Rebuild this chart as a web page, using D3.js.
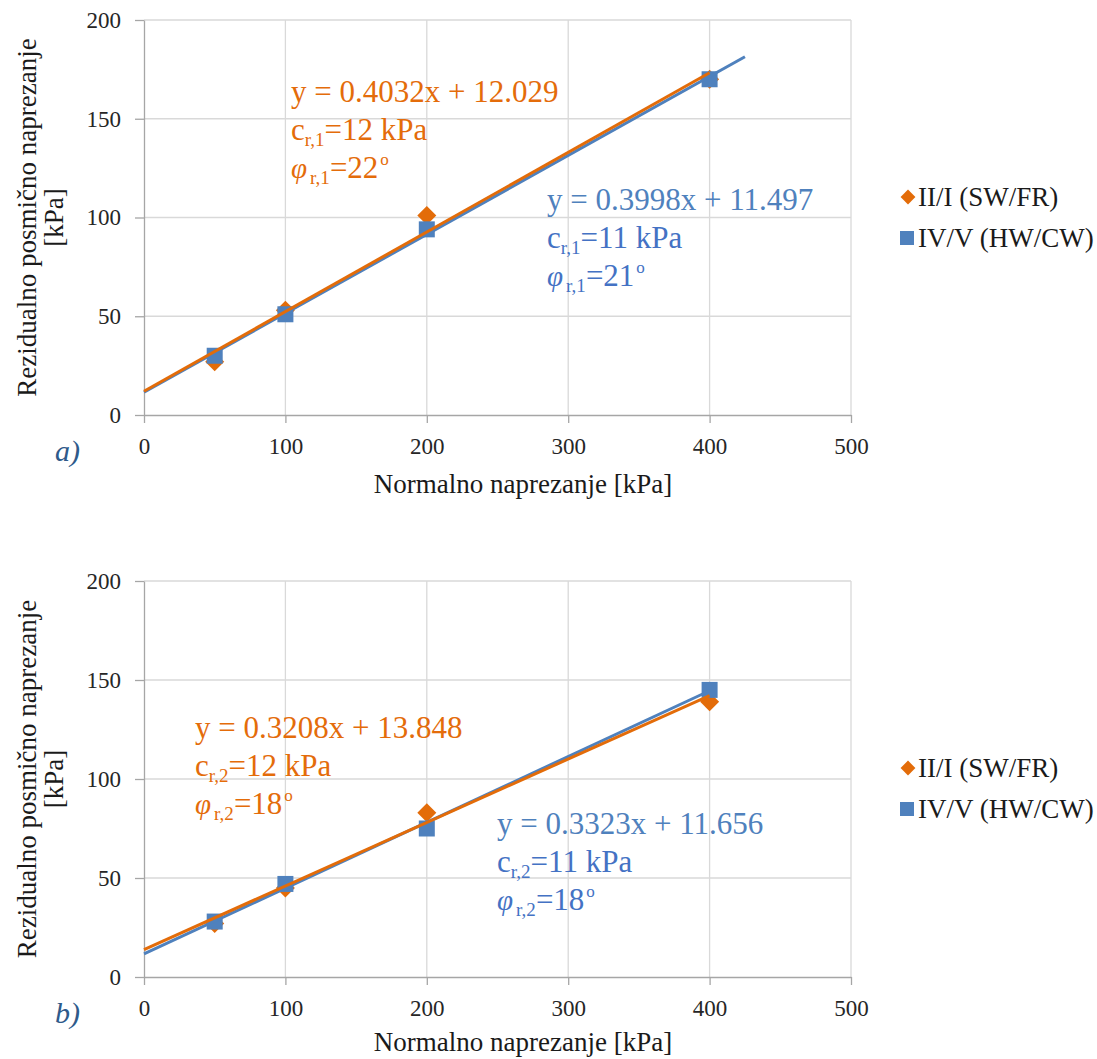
<!DOCTYPE html>
<html>
<head>
<meta charset="utf-8">
<script src="https://cdn.jsdelivr.net/npm/d3@7"></script>
<style>
  html, body { margin: 0; padding: 0; background: #ffffff; }
  svg { display: block; }
  svg text, svg tspan { font-family: "Liberation Serif", "Times New Roman", serif !important; }
</style>
</head>
<body>
<div id="chart"></div>
<script>
// ---------- data ----------
const xValues = [50, 100, 200, 400];
const xTicks = [0, 100, 200, 300, 400, 500];
const yTicks = [0, 50, 100, 150, 200];

const seriesNames = ["II/I (SW/FR)", "IV/V (HW/CW)"];

// chart a
const aOrange = [27, 53, 101, 170];
const aBlue = [30, 51, 94, 170];
const aSlopes = [0.4032, 0.3998];
const aIntercepts = [12.029, 11.497];
const aLineEnds = [400, 425];
const aEquations = ["y = 0.4032x + 12.029", "y = 0.3998x + 11.497"];
const aCohesion = ["12", "11"];
const aFriction = ["22", "21"];

// chart b
const bOrange = [27, 45, 83, 139];
const bBlue = [28, 47, 75, 145];
const bSlopes = [0.3208, 0.3323];
const bIntercepts = [13.848, 11.656];
const bLineEnds = [400, 400];
const bEquations = ["y = 0.3208x + 13.848", "y = 0.3323x + 11.656"];
const bCohesion = ["12", "11"];
const bFriction = ["18", "18"];

const xTitle = "Normalno naprezanje [kPa]";
const yTitle1 = "Rezidualno posmično naprezanje";
const yTitle2 = "[kPa]";

// ---------- styles ----------
const ORANGE = "#E36C09";
const BLUE = "#4F81BD";
const ORANGE_TXT = "#E46C0A";
const BLUE_EQ = "#4F81BD";
const BLUE_TXT = "#4472C4";
const GRID = "#d9d9d9";
const AXIS = "#a6a6a6";
const SERIF = "'Liberation Serif', 'Times New Roman', serif";

const W = 1097, H = 1059;
const svg = d3.select("#chart").append("svg").attr("width", W).attr("height", H)
  .attr("font-family", SERIF);

function drawChart(cfg) {
  const left = 144, right = 851;
  const x = d3.scaleLinear().domain([0, 500]).range([left, right]);
  const y = d3.scaleLinear().domain([0, 200]).range([cfg.bottom, cfg.top]);
  const g = svg.append("g").attr("font-family", SERIF);

  // grid
  g.append("g").selectAll("line").data(xTicks.filter(d => d > 0)).join("line")
    .attr("x1", d => x(d)).attr("x2", d => x(d))
    .attr("y1", y(0)).attr("y2", y(200))
    .attr("stroke", GRID).attr("stroke-width", 1.3);
  g.append("g").selectAll("line").data(yTicks.filter(d => d > 0)).join("line")
    .attr("x1", x(0)).attr("x2", x(500))
    .attr("y1", d => y(d)).attr("y2", d => y(d))
    .attr("stroke", GRID).attr("stroke-width", 1.3);

  // axes
  const xAxis = g.append("g").attr("transform", `translate(0,${y(0)})`)
    .call(d3.axisBottom(x).tickValues(xTicks).tickSize(8).tickSizeOuter(0).tickFormat(d3.format("d")));
  const yAxis = g.append("g").attr("transform", `translate(${x(0)},0)`)
    .call(d3.axisLeft(y).tickValues(yTicks).tickSize(9).tickSizeOuter(0).tickFormat(d3.format("d")));
  [xAxis, yAxis].forEach(a => {
    a.attr("font-family", SERIF).attr("font-size", 23);
    a.selectAll("path.domain").attr("stroke", AXIS).attr("stroke-width", 1.3);
    a.selectAll(".tick line").attr("stroke", AXIS).attr("stroke-width", 1.3);
    a.selectAll(".tick text").attr("fill", "#262626");
  });
  xAxis.selectAll(".tick text").attr("y", 39).attr("dy", "0");
  yAxis.selectAll(".tick text").attr("x", -23).attr("dy", "0.32em");

  // markers
  const diamond = d3.symbol().type(d3.symbolDiamond2).size(230);
  g.append("g").selectAll("path").data(xValues.map((v, i) => [v, cfg.orange[i]])).join("path")
    .attr("d", diamond)
    .attr("transform", d => `translate(${x(d[0])},${y(d[1])})`)
    .attr("fill", ORANGE);
  g.append("g").selectAll("rect").data(xValues.map((v, i) => [v, cfg.blue[i]])).join("rect")
    .attr("x", d => x(d[0]) - 8).attr("y", d => y(d[1]) - 8)
    .attr("width", 16).attr("height", 16)
    .attr("fill", BLUE);

  // trend lines
  const line = d3.line().x(d => x(d[0])).y(d => y(d[1]));
  const blueLine = [[0, cfg.intercepts[1]], [cfg.lineEnds[1], cfg.slopes[1] * cfg.lineEnds[1] + cfg.intercepts[1]]];
  const orangeLine = [[0, cfg.intercepts[0]], [cfg.lineEnds[0], cfg.slopes[0] * cfg.lineEnds[0] + cfg.intercepts[0]]];
  g.append("path").datum(blueLine).attr("d", line).attr("fill", "none")
    .attr("stroke", BLUE).attr("stroke-width", 3);
  g.append("path").datum(orangeLine).attr("d", line).attr("fill", "none")
    .attr("stroke", ORANGE).attr("stroke-width", 3);

  // annotations
  function annot(px, py, eq, coh, fri, sub, cEq, cTxt) {
    const fs = 31;
    g.append("text").attr("x", px).attr("y", py).attr("fill", cEq)
      .attr("font-size", fs).text(eq);
    const t2 = g.append("text").attr("x", px).attr("y", py + 38).attr("fill", cTxt)
      .attr("font-size", fs);
    t2.append("tspan").text("c");
    t2.append("tspan").attr("dy", 6).attr("font-size", 19).text("r," + sub);
    t2.append("tspan").attr("dy", -6).text("=" + coh + " kPa");
    const t3 = g.append("text").attr("x", px).attr("y", py + 76).attr("fill", cTxt)
      .attr("font-size", fs);
    t3.append("tspan").attr("font-style", "italic").attr("font-size", 29).text("φ");
    t3.append("tspan").attr("dx", 3).attr("dy", 6).attr("font-size", 19).text("r," + sub);
    t3.append("tspan").attr("dy", -6).text("=" + fri);
    t3.append("tspan").attr("dy", -13).attr("dx", 2).attr("font-size", 17).text("o");
  }
  annot(cfg.ann[0][0], cfg.ann[0][1], cfg.equations[0], cfg.cohesion[0], cfg.friction[0], cfg.sub, ORANGE_TXT, ORANGE_TXT);
  annot(cfg.ann[1][0], cfg.ann[1][1], cfg.equations[1], cfg.cohesion[1], cfg.friction[1], cfg.sub, BLUE_EQ, BLUE_TXT);

  // axis titles
  g.append("text").attr("x", 523).attr("y", cfg.xTitleY).attr("text-anchor", "middle")
    .attr("fill", "#1a1a1a").attr("font-size", 27).text(xTitle);
  const cy = (cfg.top + cfg.bottom) / 2;
  g.append("text").attr("transform", `translate(36,${cy}) rotate(-90)`).attr("text-anchor", "middle")
    .attr("fill", "#1a1a1a").attr("font-size", 27).text(yTitle1);
  g.append("text").attr("transform", `translate(63,${cy}) rotate(-90)`).attr("text-anchor", "middle")
    .attr("fill", "#1a1a1a").attr("font-size", 27).text(yTitle2);

  // panel label
  g.append("text").attr("x", 55).attr("y", cfg.bottom + 46).attr("fill", "#2E5A8A")
    .attr("font-size", 30).attr("font-style", "italic").text(cfg.label);

  // legend
  const lg = g.append("g");
  const ly = cfg.legendY;
  lg.append("path").attr("d", d3.symbol().type(d3.symbolDiamond2).size(140))
    .attr("transform", `translate(908,${ly})`).attr("fill", ORANGE);
  lg.append("text").attr("x", 918).attr("y", ly + 9).attr("fill", "#1a1a1a")
    .attr("font-size", 27).text(seriesNames[0]);
  lg.append("rect").attr("x", 900).attr("y", ly + 41 - 7).attr("width", 14).attr("height", 14).attr("fill", BLUE);
  lg.append("text").attr("x", 918).attr("y", ly + 50).attr("fill", "#1a1a1a")
    .attr("font-size", 27).text(seriesNames[1]);
}

drawChart({
  top: 20, bottom: 415, label: "a)", sub: "1", xTitleY: 493,
  orange: aOrange, blue: aBlue, slopes: aSlopes, intercepts: aIntercepts, lineEnds: aLineEnds,
  equations: aEquations, cohesion: aCohesion, friction: aFriction,
  ann: [[291, 102], [547, 210]], legendY: 197
});
drawChart({
  top: 581, bottom: 977, label: "b)", sub: "2", xTitleY: 1051,
  orange: bOrange, blue: bBlue, slopes: bSlopes, intercepts: bIntercepts, lineEnds: bLineEnds,
  equations: bEquations, cohesion: bCohesion, friction: bFriction,
  ann: [[195, 738], [497, 834]], legendY: 768
});
</script>
</body>
</html>
